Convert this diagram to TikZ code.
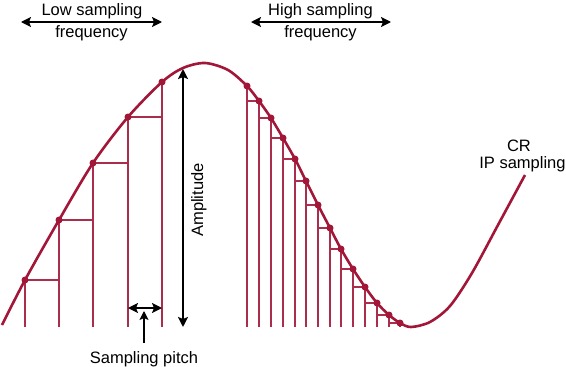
\documentclass[tikz,border=0pt]{standalone}
\usepackage{fontspec}
\setmainfont{Liberation Sans}
\usetikzlibrary{arrows.meta}
\definecolor{wave}{RGB}{162,22,56}

\begin{document}
\begin{tikzpicture}[x=1pt, y=-1pt]
  \tikzstyle{txt} = [font=\fontsize{16.5}{18}\selectfont, inner sep=0pt, anchor=base]
  \tikzstyle{sample} = [circle, fill=wave, inner sep=0pt, minimum size=7pt]
  \tikzstyle{stem} = [draw=wave!90, line width=1.1pt]
  \tikzstyle{span} = [{Stealth[length=10pt,width=10pt,inset=2pt]}-{Stealth[length=10pt,width=10pt,inset=2pt]}, line width=1.5pt]
  \tikzstyle{single} = [-{Stealth[length=9pt,width=9pt,inset=2pt]}, line width=1.3pt]

  \useasboundingbox (0,0) rectangle (566,367);

  % Define samples
  \coordinate (base) at (0,327);
  \foreach \n/\x/\y in {a1/25/280, a2/59/220, a3/93/163, a4/128/117, a5/162/82}
    \coordinate (\n) at (\x,\y);
  \foreach \n/\x/\y in {b1/247/86, b2/259/101, b3/271/118, b4/283/138, b5/295/159,
      b6/306/181, b7/318/205, b8/330/228, b9/341/249, b10/353/269, b11/365/287,
      b12/377/303, b13/389/315, b14/400/323}
    \coordinate (\n) at (\x,\y);

  % Stems and steps
  \foreach \n in {a1,a2,a3,a4,a5,b1,b2,b3,b4,b5,b6,b7,b8,b9,b10,b11,b12,b13,b14}
    \draw[stem] (\n) -- (\n |- base);
  \foreach \p/\q in {a1/a2, a2/a3, a3/a4, a4/a5}
    \draw[stem] (\p) -- (\p -| \q);
  \foreach \p/\q in {b1/b2, b2/b3, b3/b4, b4/b5, b5/b6, b6/b7, b7/b8, b8/b9,
      b9/b10, b10/b11, b11/b12, b12/b13, b13/b14}
    \draw[stem] (\q -| \p) -- (\q);

  % Waveform
  \draw[wave, line width=2.6pt] plot[smooth, tension=0.5] coordinates {(2,325) (a1)
    (a2) (a3) (a4) (a5) (183,68) (205,63) (228,70) (b1) (b2) (b3) (b4) (b5) (b6)
    (b7) (b8) (b9) (b10) (b11) (b12) (b13) (b14) (411,327) (430,322) (450,306)
    (472,273) (498,225) (525,175)};

  \foreach \n in {a1,a2,a3,a4,a5,b1,b2,b3,b4,b5,b6,b7,b8,b9,b10,b11,b12,b13,b14}
    \node[sample] (d\n) at (\n) {};

  % Amplitude
  \coordinate (amptop) at (183,69);
  \coordinate (ampbot) at (183,327);
  \draw[span, line width=2.4pt] (ampbot) -- (amptop);
  \node[txt, rotate=90] (amp) at (203,200) {Amplitude};

  % Sampling pitch
  \coordinate (pl) at (128,308);
  \coordinate (pr) at (162,308);
  \coordinate (pup) at (144,311);
  \coordinate (pdown) at (144,343);
  \draw[span, line width=1.4pt] (pl) -- (pr);
  \draw[single] (pdown) -- (pup);
  \node[txt] (pitch) at (144,363) {Sampling pitch};

  % Frequency labels
  \node[txt] (low) at (92,15) {Low sampling};
  \node[txt] (lowf) at (91.5,37) {frequency};
  \coordinate (lowl) at (21,22);
  \coordinate (lowr) at (162,22);
  \draw[span] (lowl) -- (lowr);

  \node[txt] (high) at (320.5,15) {High sampling};
  \node[txt] (highf) at (320.5,37) {frequency};
  \coordinate (highl) at (251,22);
  \coordinate (highr) at (391,22);
  \draw[span] (highl) -- (highr);

  \node[txt] (cr) at (519,151) {CR};
  \node[txt] (ip) at (522.5,168.5) {IP sampling};
\end{tikzpicture}
\end{document}
